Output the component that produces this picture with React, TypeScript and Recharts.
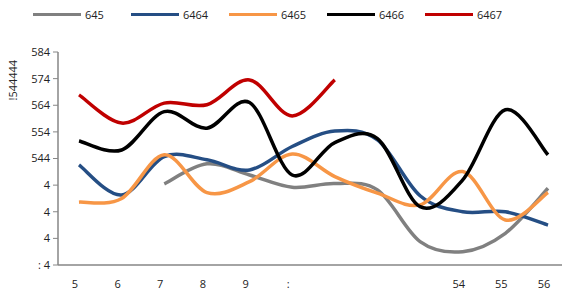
import { useEffect } from 'react'
import { LineChart, Line, XAxis, YAxis, Legend } from 'recharts'

const xLabels = ['5', '6', '7', '8', '9', ':', '', '', '', '54', '55', '56']
const yTicks = [60, 70, 80, 90, 100, 110, 120, 130, 140]
const yTickLabels = [': 4', '4', '4', '4', '544', '554', '564', '574', '584']

const s645 = [null, null, 90.5, 98, 93.8, 89.2, 90.6, 88.2, 68.8, 65, 71.9, 88.8]
const s6464 = [97.6, 86.3, 100.7, 99.5, 95.7, 104.5, 110.3, 107, 86, 80, 80, 75]
const s6465 = [83.6, 85, 101.4, 87.2, 91.3, 101.7, 93.2, 87, 82.6, 95.1, 76.9, 87.2]
const s6466 = [106.6, 103.2, 117.6, 111.4, 121, 93.8, 106, 107.5, 81.9, 92, 118.3, 101.4]
const s6467 = [123.9, 113.3, 120.8, 120.2, 129.5, 116, 129.5, null, null, null, null, null]

const seriesNames = ['645', '6464', '6465', '6466', '6467']
const seriesColors = ['#808080', '#254E84', '#F79646', '#000000', '#C00000']
const seriesValues = [s645, s6464, s6465, s6466, s6467]

const data = xLabels.map((_, i) => {
  const row: Record<string, number | null> = { idx: i }
  seriesNames.forEach((n, j) => {
    row[n] = seriesValues[j][i]
  })
  return row
})

// smooth like excel: bezier with 1/6 of neighbour deltas
const smoothCurve = (context: any) => {
  let pts: [number, number][] = []
  return {
    areaStart() {},
    areaEnd() {},
    lineStart() {
      pts = []
    },
    lineEnd() {
      if (!pts.length) return
      context.moveTo(pts[0][0], pts[0][1])
      const t = 1 / 6
      for (let i = 0; i < pts.length - 1; i++) {
        const p0 = pts[i - 1] || pts[i]
        const p1 = pts[i]
        const p2 = pts[i + 1]
        const p3 = pts[i + 2] || p2
        context.bezierCurveTo(
          p1[0] + (p2[0] - p0[0]) * t,
          p1[1] + (p2[1] - p0[1]) * t,
          p2[0] - (p3[0] - p1[0]) * t,
          p2[1] - (p3[1] - p1[1]) * t,
          p2[0],
          p2[1]
        )
      }
    },
    point(x: number, y: number) {
      pts.push([+x, +y])
    },
  }
}

function LegendContent() {
  return (
    <div style={{ display: 'flex', paddingLeft: 33, height: 28, alignItems: 'center' }}>
      {seriesNames.map((n, i) => (
        <div key={n} style={{ display: 'flex', alignItems: 'center', width: 98 }}>
          <div style={{ width: 48, height: 3, background: seriesColors[i], marginRight: 4 }} />
          <span style={{ fontSize: 11, color: '#222' }}>{n}</span>
        </div>
      ))}
    </div>
  )
}

export default function App() {
  useEffect(() => {
    document.body.style.margin = '0'
  }, [])

  return (
    <div style={{ fontFamily: 'Open Sans, sans-serif' }}>
      <LineChart width={566} height={296} data={data} margin={{ top: 0, right: 4, bottom: 1, left: 0 }}>
        <Legend verticalAlign="top" align="left" height={52} content={<LegendContent />} />
        <XAxis
          dataKey="idx"
          type="category"
          scale="point"
          padding={{ left: 21, right: 14 }}
          tickFormatter={(v) => xLabels[v]}
          tickLine={false}
          axisLine={{ stroke: '#868686', strokeWidth: 1.5 }}
          tick={{ fontSize: 11, fill: '#222', dx: -4 }}
          tickMargin={9}
          interval={0}
          height={30}
        />
        <YAxis
          domain={[60, 140]}
          ticks={yTicks}
          tickFormatter={(v) => yTickLabels[yTicks.indexOf(v)]}
          axisLine={{ stroke: '#868686', strokeWidth: 1.5 }}
          tickLine={{ stroke: '#868686' }}
          tickSize={5}
          tickMargin={3}
          tick={{ fontSize: 11, fill: '#222' }}
          width={58}
          label={{ value: '!544444', angle: -90, position: 'insideLeft', dx: 8, dy: -58, style: { fontSize: 11, fill: '#222' } }}
        />
        {seriesNames.map((n, i) => (
          <Line
            key={n}
            dataKey={n}
            type={smoothCurve as any}
            stroke={seriesColors[i]}
            strokeWidth={3.5}
            dot={false}
            activeDot={false}
            isAnimationActive={false}
          />
        ))}
      </LineChart>
    </div>
  )
}
